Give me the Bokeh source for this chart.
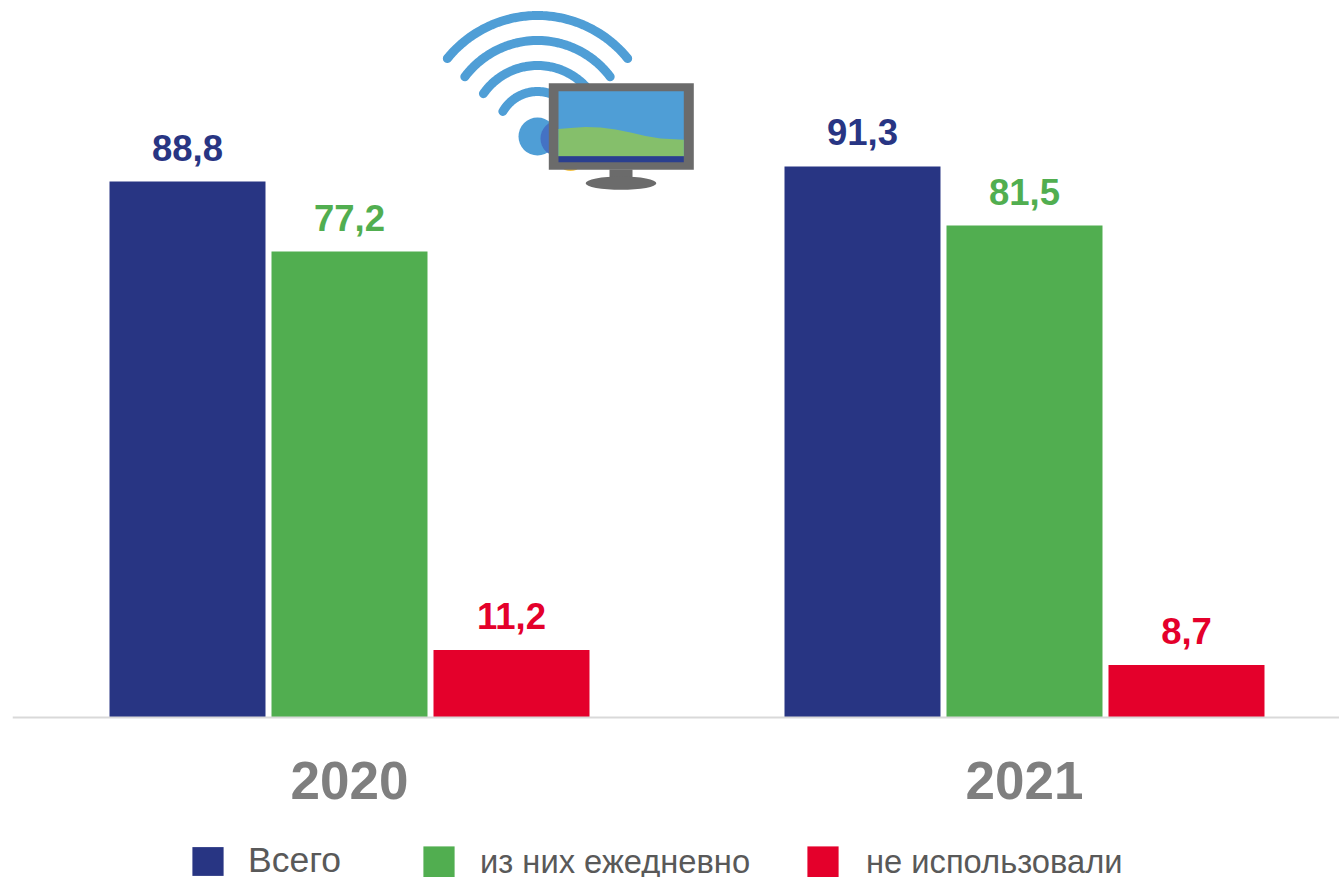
import numpy as np
from bokeh.core.properties import value
from bokeh.embed import file_html
from bokeh.models import (ColumnDataSource, FixedTicker, Legend, LegendItem,
                          NumeralTickFormatter, Range1d)
from bokeh.plotting import figure
from bokeh.resources import INLINE

years = [2020, 2021]
series_names = ["Всего", "из них ежедневно", "не использовали"]
total = [88.8, 91.3]
daily = [77.2, 81.5]
unused = [11.2, 8.7]
colors = ["#283583", "#51AE50", "#E4002B"]

FONT = "Liberation Sans"
STEP = 0.24
BAR = 0.2311
PX_UNIT_X = 675.0
PX_UNIT_Y = 6.036

# page-pixel geometry of the frame
L, R, T, B, BASE = 12, 1339, 0, 877, 717

p = figure(width=1339, height=877, output_backend="svg", toolbar_location=None,
           x_range=Range1d(2020 - (349 - L) / PX_UNIT_X, 2020 + (R - 349) / PX_UNIT_X),
           y_range=Range1d(-(B - BASE) / PX_UNIT_Y, (BASE - T) / PX_UNIT_Y),
           min_border_left=L, min_border_right=0, min_border_top=0, min_border_bottom=0,
           outline_line_color=None, background_fill_color="white", border_fill_color="white")
p.grid.visible = False
p.yaxis.visible = False

# icon layer drawn on a page-pixel scale
p.extra_x_ranges["px"] = Range1d(L, R)
p.extra_y_ranges["px"] = Range1d(B, T)

glyphs = []
for offset, vals, col, name in zip([-STEP, 0, STEP], [total, daily, unused], colors, series_names):
    src = ColumnDataSource(dict(x=[y + offset for y in years], top=vals,
                                label=[f"{v:.1f}".replace(".", ",") for v in vals]))
    r = p.vbar(x="x", top="top", bottom=0, width=BAR, source=src, color=col, line_color=None)
    glyphs.append(r)
    p.text(x="x", y="top", text="label", source=src, text_color=col,
           text_font=value(FONT), text_font_style="bold", text_font_size="36.5px",
           text_align="center", text_baseline="alphabetic", y_offset=-34)

ax = p.xaxis[0]
ax.ticker = FixedTicker(ticks=years)
ax.formatter = NumeralTickFormatter(format="0")
ax.fixed_location = 0
ax.axis_line_color = "#D9D9D9"
ax.axis_line_width = 2
ax.major_tick_line_color = None
ax.minor_tick_line_color = None
ax.major_label_text_font = FONT
ax.major_label_text_font_style = "bold"
ax.major_label_text_font_size = "53px"
ax.major_label_text_color = "#7F7F7F"
ax.major_label_standoff = 38

# WiFi + monitor icon
kw = dict(x_range_name="px", y_range_name="px")
BLUE = "#4F9ED6"
for rad, ang in [(116, 39), (91, 37), (66, 35), (40, 30)]:
    t = np.radians(np.linspace(ang, 180 - ang, 60))
    p.line(537 + rad * np.cos(t), 131 - rad * np.sin(t), line_color=BLUE, line_width=9,
           line_cap="round", **kw)
p.circle(x=[570, 597], y=[156], radius=14.5, fill_color="#F5C242", line_color=None, **kw)
p.circle(x=[537], y=[136], radius=19, fill_color=BLUE, line_color=None, **kw)
p.circle(x=[558], y=[138], radius=18, fill_color="#4472C4", line_color=None, **kw)
GRAY = "#6B6B6B"
p.quad(left=[548.3], right=[693.3], top=[82.7], bottom=[169.3], color=GRAY, line_color=None, **kw)
p.quad(left=[609], right=[632], top=[169], bottom=[178], color=GRAY, line_color=None, **kw)
p.ellipse(x=[620.5], y=[182.7], width=70.7, height=13.3, color=GRAY, line_color=None, **kw)
p.quad(left=[558], right=[683.3], top=[90.7], bottom=[155.7], color=BLUE, line_color=None, **kw)
wx = [558, 570, 585, 600, 615, 630, 645, 660, 683.3, 683.3, 558]
wy = [128.5, 127.5, 126.5, 127, 129, 132, 135.5, 138, 139.2, 155.7, 155.7]
p.patch(wx, wy, color="#85BF6B", line_color=None, **kw)
p.quad(left=[558], right=[683.3], top=[155.7], bottom=[161.7], color="#2A3F8F", line_color=None, **kw)

# three independent legends (box left, box top, standoff, font px, box h)
specs = [(188, 845, 21, 35.5, 36), (419, 842, 22, 32.7, 39), (803, 842, 24, 32.7, 39)]
for r, name, (lx, ly, so, fs, gh) in zip(glyphs, series_names, specs):
    leg = Legend(items=[LegendItem(label=value(name), renderers=[r])],
                 location=(lx - L, B - ly - gh), orientation="horizontal",
                 glyph_width=39, glyph_height=gh, label_standoff=so,
                 label_text_font=FONT, label_text_font_size=f"{fs}px",
                 label_text_color="#595959", label_height=gh,
                 background_fill_alpha=0, border_line_color=None,
                 margin=0, padding=0)
    p.add_layout(leg)

open("out.html", "w").write(file_html(p, INLINE))
